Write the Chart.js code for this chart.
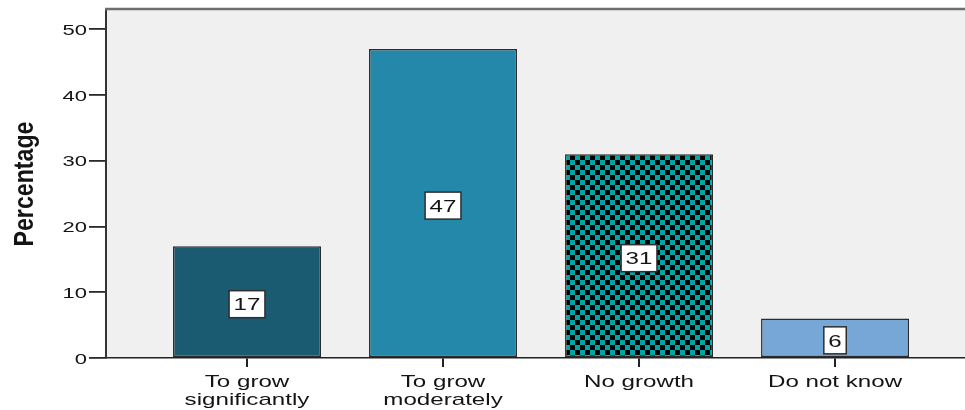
<!DOCTYPE html>
<html>
<head>
<meta charset="utf-8">
<script src="https://cdn.jsdelivr.net/npm/chart.js@4"></script>
<style>
  html, body { margin: 0; padding: 0; background: #ffffff; }
  canvas { display: block; }
</style>
</head>
<body>
<canvas id="c" width="965" height="410"></canvas>
<script>
// Expected growth of the business, share of respondents (%)
const categories = [['To grow', 'significantly'], ['To grow', 'moderately'], ['No growth'], ['Do not know']];
const percentages = [17, 47, 31, 6];
const yTicks = [0, 10, 20, 30, 40, 50];
const yTitle = 'Percentage';

const TEXT = '#141414';
const SX = 1.42; // wide horizontal glyph proportions of the export

// black / teal checkerboard fill
function checker() {
  const cell = 5;
  const c = document.createElement('canvas');
  c.width = cell * 2; c.height = cell * 2;
  const g = c.getContext('2d');
  g.fillStyle = '#000000';
  g.fillRect(0, 0, c.width, c.height);
  g.fillStyle = '#00a6a6';
  g.fillRect(0, 0, cell, cell);
  g.fillRect(cell, cell, cell, cell);
  return g.createPattern(c, 'repeat');
}

const ctx0 = document.getElementById('c').getContext('2d');
const barFills = ['#1b5b72', '#2488aa', checker(), '#76a7d6'];

function sText(ctx, str, x, y, align, font, sx) {
  ctx.save();
  ctx.font = font;
  ctx.textAlign = 'left';
  ctx.textBaseline = 'alphabetic';
  const w = ctx.measureText(str).width * sx;
  const x0 = align === 'center' ? x - w / 2 : (align === 'right' ? x - w : x);
  ctx.translate(x0, y);
  ctx.scale(sx, 1);
  ctx.fillText(str, 0, 0);
  ctx.restore();
  return w;
}

const framePlugin = {
  id: 'frame',
  beforeDraw(chart) {
    const { ctx, chartArea: a } = chart;
    ctx.save();
    ctx.fillStyle = '#f0f0f0';
    ctx.fillRect(a.left, a.top, a.right - a.left, a.bottom - a.top);
    ctx.restore();
  },
  afterDraw(chart) {
    const { ctx, chartArea: a } = chart;
    ctx.save();
    ctx.strokeStyle = '#6e6e6e';
    ctx.lineWidth = 2.5;
    ctx.beginPath();
    ctx.moveTo(a.left - 1, a.top);
    ctx.lineTo(a.right, a.top);
    ctx.stroke();
    ctx.restore();
  }
};

const textPlugin = {
  id: 'texts',
  afterDatasetsDraw(chart) {
    const { ctx } = chart;
    const meta = chart.getDatasetMeta(0);
    ctx.save();
    const font = "17px 'Liberation Sans', Arial, sans-serif";
    meta.data.forEach((bar, i) => {
      const p = bar.getProps(['x', 'y', 'base'], true);
      const label = String(percentages[i]);
      ctx.font = font;
      const tw = ctx.measureText(label).width * SX;
      const bw = tw + 9, bh = 27;
      const cy = (p.y + p.base) / 2 + 2.5;
      ctx.fillStyle = '#ffffff';
      ctx.fillRect(p.x - bw / 2, cy - bh / 2, bw, bh);
      ctx.strokeStyle = '#2e2e2e';
      ctx.lineWidth = 1.5;
      ctx.strokeRect(p.x - bw / 2, cy - bh / 2, bw, bh);
      ctx.fillStyle = TEXT;
      sText(ctx, label, p.x, cy + 6.2, 'center', font, SX);
    });
    ctx.restore();
  },
  afterDraw(chart) {
    const { ctx } = chart;
    const ys = chart.scales.y, xs = chart.scales.x;
    ctx.save();
    ctx.fillStyle = TEXT;
    // y tick labels
    const yFont = "15.5px 'Liberation Sans', Arial, sans-serif";
    yTicks.forEach(v => {
      sText(ctx, String(v), 87, ys.getPixelForValue(v) + 5.5, 'right', yFont, SX);
    });
    // category labels
    const xFont = "17px 'Liberation Sans', Arial, sans-serif";
    categories.forEach((lines, i) => {
      const x = xs.getPixelForValue(i + 1);
      lines.forEach((ln, k) => {
        sText(ctx, ln, x, 387 + k * 18, 'center', xFont, SX);
      });
    });
    // axis title
    ctx.font = "bold 23px 'Liberation Sans', Arial, sans-serif";
    const tw = ctx.measureText(yTitle).width;
    ctx.translate(32.6, 184);
    ctx.rotate(-Math.PI / 2);
    ctx.scale(125 / tw, 1.2);
    ctx.textAlign = 'center';
    ctx.textBaseline = 'alphabetic';
    ctx.fillText(yTitle, 0, 0);
    ctx.restore();
  }
};

new Chart(ctx0, {
  type: 'bar',
  data: {
    datasets: [{
      data: percentages.map((v, i) => ({ x: i + 1, y: v })),
      backgroundColor: barFills,
      borderColor: '#2b2b2b',
      borderWidth: 1.5,
      borderSkipped: false,
      barPercentage: 0.755,
      categoryPercentage: 1
    }]
  },
  options: {
    responsive: false,
    devicePixelRatio: 1,
    animation: false,
    layout: { padding: { top: 9, right: 0, left: 0, bottom: 0 } },
    plugins: { legend: { display: false }, tooltip: { enabled: false } },
    scales: {
      x: {
        type: 'linear',
        min: 0.2806,
        max: 4.663,
        offset: false,
        afterBuildTicks(s) { s.ticks = categories.map((_, i) => ({ value: i + 1 })); },
        afterFit(s) { s.height = 52; },
        ticks: { display: false },
        grid: { offset: false, drawOnChartArea: false, drawTicks: true, tickLength: 9, color: '#222222', lineWidth: 2 },
        border: { display: true, color: '#222222', width: 1.5 }
      },
      y: {
        type: 'linear',
        min: 0,
        max: 53.1,
        afterBuildTicks(s) { s.ticks = yTicks.map(v => ({ value: v })); },
        afterFit(s) { s.width = 106; },
        ticks: { display: false },
        grid: { drawOnChartArea: false, drawTicks: true, tickLength: 17, color: '#2a2a2a', lineWidth: 1.8 },
        border: { display: true, color: '#333333', width: 2 }
      }
    }
  },
  plugins: [framePlugin, textPlugin]
});
</script>
</body>
</html>
